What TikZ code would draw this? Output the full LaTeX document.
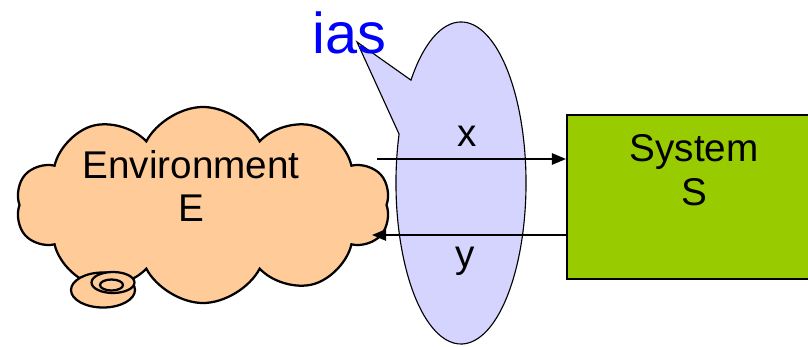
\documentclass[tikz,border=0pt]{standalone}
\usepackage{fontspec}
\setmainfont{Liberation Sans}
\usetikzlibrary{positioning,arrows.meta,shapes.symbols,shapes.callouts}
\definecolor{peach}{HTML}{FFCC99}
\definecolor{lavender}{HTML}{D4D4FF}
\definecolor{leaf}{HTML}{99CC00}
\definecolor{callblue}{HTML}{0000FF}

\begin{document}
\begin{tikzpicture}[x=0.025cm,y=-0.025cm,
          big/.style={font=\fontsize{27.5}{31}\selectfont,align=center},
          envcloud/.style={cloud,cloud puffs=10,cloud puff arc=125,draw,fill=peach,line width=1.6pt,
            minimum width=9.35cm,minimum height=4.9cm,inner sep=0pt},
          swirl/.style={draw,fill=peach,line width=1.6pt},
          flow/.style={line width=1.4pt,-{Triangle[length=10pt,width=8pt]}}]
        \useasboundingbox (0,0) rectangle (808,347);
        % environment cloud with its little tail
        \node[envcloud] (env) at (203,205){};
        \draw[swirl] (103,290) ellipse [x radius=32,y radius=17.5];
        \draw[swirl] (113,282.5) ellipse [x radius=21.5,y radius=10.5];
        \draw[swirl] (111.5,285) ellipse [x radius=11.5,y radius=5.5];
        \node[big] (envtext) at (191,186){Environment\\E};
        % interface callout
        \coordinate (iastip) at (357,42);
        \node[ellipse callout,draw,fill=lavender,line width=0.8pt,
          minimum width=3.25cm,minimum height=8.05cm,inner sep=0pt,
          callout absolute pointer={(iastip)},callout pointer arc=22] (iface) at (461,183){};
        \node[font=\fontsize{41}{45}\selectfont,text=callblue,anchor=base west,inner sep=0pt] (ias) at (312,54){ias};
        % system box
        \node[draw,fill=leaf,line width=1.4pt,anchor=north west,
          minimum width=6.4cm,minimum height=4.1cm] (sys) at (566,114){};
        \node[big] (systext) at (694,170){System\\S};
        % signals
        \coordinate (xstart) at (377,159);
        \coordinate (yend) at (372,235);
        \draw[flow] (xstart) -- (xstart -| sys.west);
        \draw[flow] (yend -| sys.west) -- (yend);
        \node[big,anchor=base] (xlabel) at (467,147){x};
        \node[big,anchor=base] (ylabel) at (465,267){y};
      \end{tikzpicture}
\end{document}
